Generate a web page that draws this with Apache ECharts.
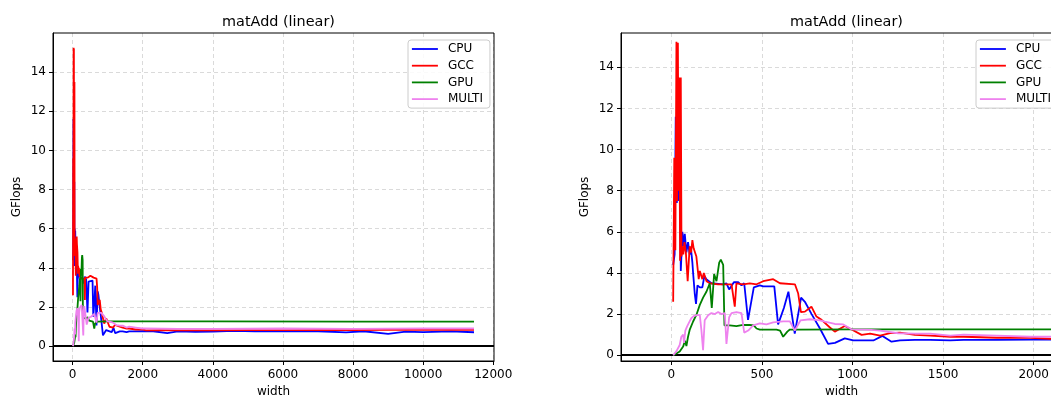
<!DOCTYPE html>
<html>
<head>
<meta charset="utf-8">
<script src="https://cdn.jsdelivr.net/npm/echarts@6/dist/echarts.min.js"></script>
<style>
html,body{margin:0;padding:0;background:#fff;}
#chart{width:1051px;height:399px;}
</style>
</head>
<body>
<div id="chart"></div>
<script>
// ---- data ----
const seriesNames = ['CPU', 'GCC', 'GPU', 'MULTI'];
const titleText = 'matAdd (linear)';
const leftXTicks = [0, 2000, 4000, 6000, 8000, 10000, 12000];
const rightXTicks = [0, 500, 1000, 1500, 2000];
const yTicks = [0, 2, 4, 6, 8, 10, 12, 14];

const cpuX = [10,18,24,30,36,42,48,52,61,68,74,83,92,101,109,116,120,129,136,144,157,171,182,193,221,285,304,319,345,369,387,402,423,455,488,507,568,589,621,646,681,716,737,774,820,865,903,957,1004,1115,1165,1215,1262,1344,1428,1539,1613,1797,1981,2300,2700,3000,3500,4000,4600,5200,6000,7000,7800,8300,9000,9500,10000,10800,11450];
const cpuY = [4.4,4.9,11.6,7.4,8.4,7.5,8.4,4.1,6.0,5.3,5.9,5.0,5.5,4.9,5.1,4.5,4.0,3.0,2.5,3.4,3.3,3.3,3.85,3.7,3.5,3.45,3.5,3.2,3.55,3.55,3.4,3.5,1.72,3.3,3.4,3.35,3.35,1.5,2.3,3.09,1.05,2.8,2.6,2.0,1.3,0.55,0.6,0.82,0.72,0.72,0.94,0.66,0.72,0.75,0.75,0.72,0.75,0.75,0.76,0.76,0.66,0.75,0.73,0.74,0.78,0.76,0.77,0.76,0.7,0.76,0.63,0.74,0.72,0.75,0.71];

const gccX = [10,16,22,28,32,36,40,44,48,52,56,60,66,72,80,90,101,109,116,123,138,151,157,171,179,194,212,258,332,350,359,396,433,470,507,562,599,682,700,715,737,773,801,829,875,902,957,995,1050,1097,1152,1207,1262,1344,1428,1539,1613,1797,1981,2092,2500,3000,4000,5000,6000,7000,8000,9000,10000,11450];
const gccY = [2.6,9.6,5.1,15.25,7.5,15.2,8.0,13.5,4.6,13.5,4.8,5.3,4.9,5.5,5.0,3.6,5.3,5.0,5.6,5.2,4.8,3.7,4.1,3.7,4.0,3.6,3.5,3.45,3.45,2.36,3.5,3.45,3.5,3.45,3.6,3.7,3.5,3.45,3.0,2.1,2.12,2.36,1.88,1.72,1.35,1.15,1.42,1.25,0.99,1.05,0.95,1.08,1.1,0.99,0.95,0.9,0.9,0.85,0.85,0.8,0.82,0.8,0.8,0.82,0.82,0.83,0.82,0.83,0.83,0.83];

const gpuX = [10,30,46,65,75,83,92,101,120,138,157,175,194,212,223,236,249,264,273,286,293,322,359,396,433,455,470,488,580,600,617,640,654,700,1000,2000,4000,8000,11450];
const gpuY = [0.0,0.1,0.18,0.42,0.7,0.45,0.9,1.23,1.64,1.96,2.45,2.8,3.1,3.5,2.3,3.95,3.6,4.5,4.65,4.4,1.45,1.45,1.42,1.48,1.47,1.45,1.3,1.25,1.25,1.2,0.9,1.15,1.25,1.25,1.26,1.26,1.26,1.25,1.25];

const multiX = [10,28,46,55,65,70,77,87,98,110,123,138,157,166,175,184,203,221,240,258,277,295,304,319,332,359,387,402,424,452,488,525,562,617,654,681,713,765,820,847,902,949,994,1060,1103,1152,1252,1344,1428,1539,1613,1797,1981,2092,3000,4000,6000,8000,10000,11450];
const multiY = [0.0,0.2,0.5,0.9,1.0,0.6,1.2,1.4,1.6,1.8,1.9,1.95,1.95,1.2,0.25,1.7,1.95,2.05,2.0,2.1,2.0,2.05,0.55,1.85,2.05,2.1,2.05,1.1,1.2,1.45,1.55,1.5,1.6,1.65,1.65,1.2,1.7,1.75,1.7,1.63,1.52,1.5,1.26,1.25,1.23,1.2,1.07,1.05,1.05,0.95,1.0,0.95,0.9,0.9,0.88,0.88,0.9,0.88,0.9,0.9];

// ---- build ----
const FONT = 'DejaVu Sans';
const colors = ['#0000ff', '#ff0000', '#008000', '#ee82ee'];
const xs = [cpuX, gccX, gpuX, multiX];
const ys = [cpuY, gccY, gpuY, multiY];
const pairs = xs.map((xa, i) => xa.map((x, j) => [x, ys[i][j]]));

const gridW = 441, gridH = 328, gridTop = 33;
const grids = [
  {left: 53, top: gridTop, width: gridW, height: gridH, show: true, borderColor: '#000', borderWidth: 1, z: 10,
   containLabel: false, outerBoundsMode: 'none'},
  {left: 621, top: gridTop, width: gridW, height: gridH, show: true, borderColor: '#000', borderWidth: 1, z: 10,
   containLabel: false, outerBoundsMode: 'none'}
];
const plain = v => String(v);

function xAxisCfg(gi, min, max, ticks) {
  return {
    type: 'value', gridIndex: gi, min: min, max: max,
    name: 'width', nameLocation: 'middle', nameGap: 25,
    nameTextStyle: {fontFamily: FONT, fontSize: 12, color: '#000'},
    axisLine: {show: true, onZero: false, lineStyle: {color: '#000', width: 1}},
    axisTick: {show: true, length: 4, inside: false, customValues: ticks, lineStyle: {color: '#000'}},
    axisLabel: {show: true, margin: 8, customValues: ticks, formatter: plain, fontFamily: FONT, fontSize: 12, color: '#000'},
    splitLine: {show: true, lineStyle: {color: '#d0d0d0', type: [4, 3], width: 0.8}}
  };
}
function yAxisCfg(gi, min, max) {
  return {
    type: 'value', gridIndex: gi, min: min, max: max,
    name: 'GFlops', nameLocation: 'middle', nameGap: 30, nameRotate: 90,
    nameTextStyle: {fontFamily: FONT, fontSize: 12, color: '#000'},
    axisLine: {show: true, onZero: false, lineStyle: {color: '#000', width: 1}},
    axisTick: {show: true, length: 4, inside: false, customValues: yTicks, lineStyle: {color: '#000'}},
    axisLabel: {show: true, margin: 7, customValues: yTicks, formatter: plain, fontFamily: FONT, fontSize: 12, color: '#000'},
    splitLine: {show: true, lineStyle: {color: '#d0d0d0', type: [4, 3], width: 0.8}}
  };
}

const series = [];
[0, 1].forEach(gi => {
  seriesNames.forEach((name, i) => {
    const s = {
      name: name, type: 'line', xAxisIndex: gi, yAxisIndex: gi,
      data: pairs[i], symbol: 'none', showSymbol: false, clip: true,
      lineStyle: {color: colors[i], width: 1.8},
      itemStyle: {color: colors[i]},
      animation: false, z: 3 + i
    };
    if (i === 0) {
      s.markLine = {
        silent: true, symbol: ['none', 'none'], label: {show: false},
        lineStyle: {color: '#000', width: 1.8, type: 'solid'},
        data: [{yAxis: 0}], animation: false
      };
    }
    series.push(s);
  });
});

function legendCfg(left) {
  return {
    show: true, orient: 'vertical', left: left, top: 40,
    data: seriesNames,
    itemWidth: 26, itemHeight: 14, itemGap: 4.7,
    padding: [3, 7, 3, 3],
    borderColor: '#cccccc', borderWidth: 1, borderRadius: 3,
    backgroundColor: 'rgba(255,255,255,0.85)',
    itemStyle: {opacity: 0, borderWidth: 0},
    lineStyle: {width: 1.8, opacity: 1},
    textStyle: {fontFamily: FONT, fontSize: 12, color: '#000', padding: [0, 0, 0, 5]},
    selectedMode: false, z: 20
  };
}

const option = {
  backgroundColor: '#ffffff',
  animation: false,
  title: [
    {text: titleText, left: 273.5, top: 10, textAlign: 'center',
     textStyle: {fontFamily: FONT, fontSize: 14.4, fontWeight: 'normal', color: '#000'}},
    {text: titleText, left: 841.5, top: 10, textAlign: 'center',
     textStyle: {fontFamily: FONT, fontSize: 14.4, fontWeight: 'normal', color: '#000'}}
  ],
  legend: [legendCfg(408), legendCfg(976)],
  grid: grids,
  xAxis: [xAxisCfg(0, -560, 12020, leftXTicks), xAxisCfg(1, -278, 2156, rightXTicks)],
  yAxis: [yAxisCfg(0, -0.76, 16.0), yAxisCfg(1, -0.28, 15.67)],
  series: series
};

const chart = echarts.init(document.getElementById('chart'), null, {renderer: 'canvas'});
chart.setOption(option);
</script>
</body>
</html>
